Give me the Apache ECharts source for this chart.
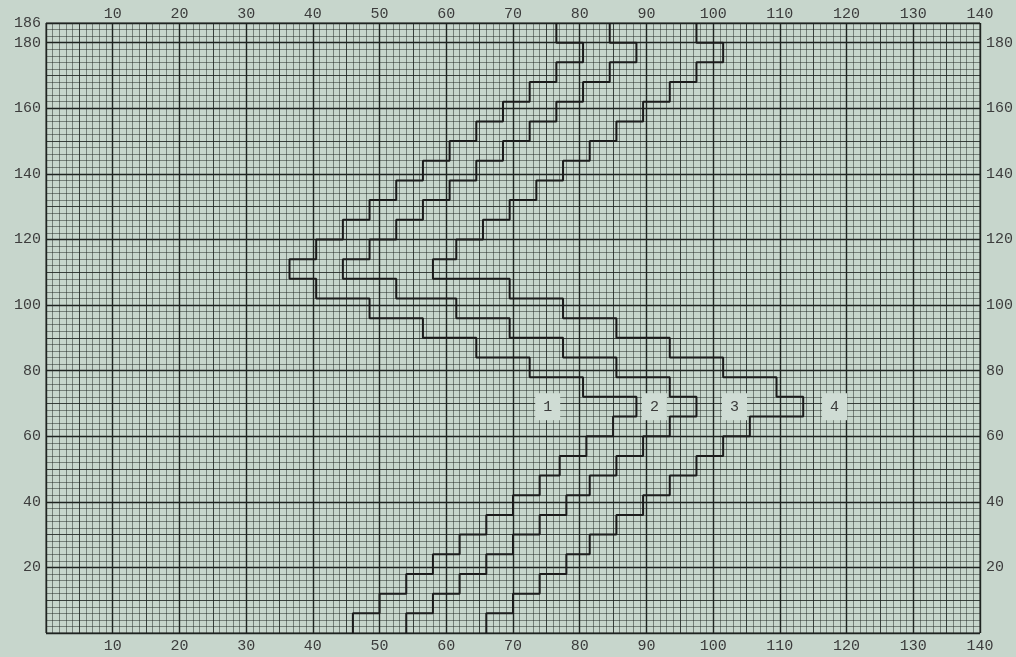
<!DOCTYPE html>
<html>
<head>
<meta charset="utf-8">
<script src="https://cdn.jsdelivr.net/npm/echarts@6/dist/echarts.min.js"></script>
<style>
html, body { margin: 0; padding: 0; background: #c7d6cc; }
#main { width: 1016px; height: 657px; }
</style>
</head>
<body>
<div id="main"></div>
<script>
// y edges of the steps (one riser per band), bottom to top
var bandEdges = [0, 6, 12, 18, 24, 30, 36, 42, 48, 54, 60, 66, 72, 78, 84, 90, 96,
    102, 108, 114, 120, 126, 132, 138, 144, 150, 156, 162, 168, 174, 180, 186];

// x of the vertical riser in each band, bottom to top
var stairA = [46, 50, 54, 58, 62, 66, 70, 74, 77, 81, 85, 88.5,
    80.5, 72.5, 64.5, 56.5, 48.5, 40.5, 36.5,
    40.5, 44.5, 48.5, 52.5, 56.5, 60.5, 64.5, 68.5, 72.5, 76.5, 80.5, 76.5];
var stairB = [54, 58, 62, 66, 70, 74, 78, 81.5, 85.5, 89.5, 93.5, 97.5,
    93.5, 85.5, 77.5, 69.5, 61.5, 52.5, 44.5,
    48.5, 52.5, 56.5, 60.5, 64.5, 68.5, 72.5, 76.5, 80.5, 84.5, 88.5, 84.5];
var stairC = [66, 70, 74, 78, 81.5, 85.5, 89.5, 93.5, 97.5, 101.5, 105.5, 113.5,
    109.5, 101.5, 93.5, 85.5, 77.5, 69.5, 58,
    61.5, 65.5, 69.5, 73.5, 77.5, 81.5, 85.5, 89.5, 93.5, 97.5, 101.5, 97.5];

// zone numbers
var zoneNames = ['1', '2', '3', '4'];
var zoneX = [75.2, 91.2, 103.2, 118.2];
var zoneY = [69, 69, 69, 69];

// tick labels
var xLabels = [10, 20, 30, 40, 50, 60, 70, 80, 90, 100, 110, 120, 130, 140];
var yLeftLabels = [20, 40, 60, 80, 100, 120, 140, 160, 180, 186];
var yRightLabels = [20, 40, 60, 80, 100, 120, 140, 160, 180];

function stairPath(xs) {
    var pts = [];
    for (var i = 0; i < xs.length; i++) {
        pts.push([xs[i], bandEdges[i]]);
        pts.push([xs[i], bandEdges[i + 1]]);
    }
    return pts;
}

var labelFont = { fontFamily: 'Liberation Mono', fontSize: 15, color: '#3c3c3c' };

function pick(list) {
    return function (v) { return list.indexOf(v) >= 0 ? String(v) : ''; };
}

function gridAxis(extra) {
    var base = {
        type: 'value',
        axisLine: { show: false },
        axisTick: { show: false },
        axisLabel: { show: false },
        splitLine: { show: false }
    };
    return Object.assign(base, extra);
}

var minorLine = { show: true, lineStyle: { color: 'rgba(35,42,38,0.5)', width: 1 } };
var midLine = { show: true, lineStyle: { color: 'rgba(30,36,33,0.7)', width: 1 } };
var majorLine = { show: true, lineStyle: { color: '#1e2320', width: 1.4 } };

var zoneData = [];
for (var k = 0; k < zoneNames.length; k++) {
    zoneData.push({ name: zoneNames[k], value: [zoneX[k], zoneY[k]] });
}

var myChart = echarts.init(document.getElementById('main'));

var option = {
    animation: false,
    backgroundColor: '#c7d6cc',
    grid: {
        left: 46, right: 36, top: 23, bottom: 24,
        show: true, borderColor: '#2a2a2a', borderWidth: 1
    },
    xAxis: [
        gridAxis({ position: 'bottom', min: 0, max: 140, interval: 1, splitLine: minorLine }),
        gridAxis({ position: 'bottom', min: 0, max: 140, interval: 5, splitLine: midLine }),
        gridAxis({
            position: 'bottom', min: 0, max: 140, interval: 10, splitLine: majorLine,
            axisLabel: Object.assign({ show: true, margin: 6, formatter: pick(xLabels) }, labelFont)
        }),
        gridAxis({
            position: 'top', min: 0, max: 140, interval: 10,
            axisLabel: Object.assign({ show: true, margin: 1, formatter: pick(xLabels) }, labelFont)
        })
    ],
    yAxis: [
        gridAxis({ position: 'left', min: 0, max: 186, interval: 2, splitLine: minorLine }),
        gridAxis({ position: 'left', min: 0, max: 186, interval: 10, splitLine: midLine }),
        gridAxis({
            position: 'left', min: 0, max: 186, interval: 20, splitLine: majorLine,
            axisLabel: Object.assign({ show: true, margin: 5, formatter: pick(yLeftLabels) }, labelFont)
        }),
        gridAxis({
            position: 'right', min: 0, max: 186, interval: 20,
            axisLabel: Object.assign({ show: true, margin: 6, formatter: pick(yRightLabels) }, labelFont)
        })
    ],
    series: [
        {
            type: 'line', xAxisIndex: 2, yAxisIndex: 2, data: stairPath(stairA),
            showSymbol: false, lineStyle: { color: '#1b1b1b', width: 2 }
        },
        {
            type: 'line', xAxisIndex: 2, yAxisIndex: 2, data: stairPath(stairB),
            showSymbol: false, lineStyle: { color: '#1b1b1b', width: 2 }
        },
        {
            type: 'line', xAxisIndex: 2, yAxisIndex: 2, data: stairPath(stairC),
            showSymbol: false, lineStyle: { color: '#1b1b1b', width: 2 }
        },
        {
            type: 'scatter', xAxisIndex: 2, yAxisIndex: 2, data: zoneData,
            symbolSize: 1, itemStyle: { color: 'rgba(0,0,0,0)' }, z: 5,
            label: {
                show: true, position: 'inside', formatter: '{b}', opacity: 1,
                fontFamily: 'Liberation Mono', fontSize: 15, color: '#3a3a3a',
                backgroundColor: '#cfdcd4', padding: [6, 8]
            }
        }
    ]
};

myChart.setOption(option);
</script>
</body>
</html>
